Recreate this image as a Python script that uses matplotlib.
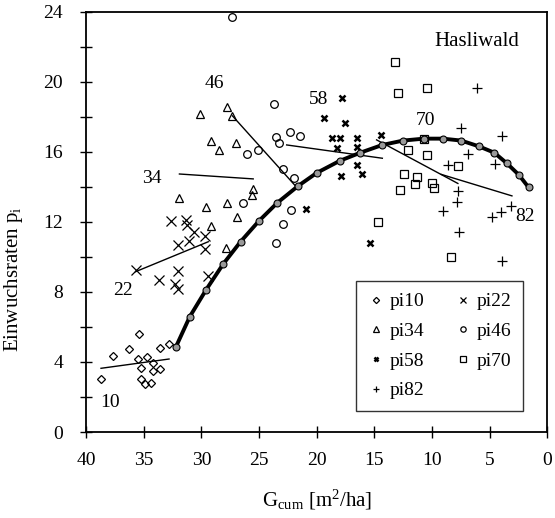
import matplotlib
matplotlib.use('Agg')
import matplotlib.pyplot as plt
from matplotlib.ticker import MultipleLocator

plt.rcParams['font.family'] = ['Liberation Serif', 'DejaVu Serif']
plt.rcParams['mathtext.default'] = 'regular'

# --- data (x = G_cum, y = p_i) ---
pi10_x = [38.7, 37.7, 36.3, 35.4, 35.5, 34.7, 35.2, 34.2, 34.2, 33.6, 33.6, 32.8, 35.2, 34.9, 34.4]
pi10_y = [3.03, 4.32, 4.74, 5.60, 4.19, 4.30, 3.66, 3.92, 3.50, 3.60, 4.78, 5.03, 3.01, 2.73, 2.82]

pi22_x = [35.7, 32.6, 31.3, 31.2, 30.6, 32.0, 31.1, 29.7, 29.7, 33.7, 32.0, 32.3, 32.0, 29.4]
pi22_y = [9.26, 12.06, 12.11, 11.83, 11.41, 10.69, 10.91, 11.20, 10.44, 8.69, 9.22, 8.46, 8.17, 8.91]

pi34_x = [30.1, 27.8, 27.3, 29.2, 28.5, 27.0, 25.5, 25.6, 31.9, 29.6, 27.8, 26.9, 29.2, 27.9]
pi34_y = [18.17, 18.59, 18.06, 16.63, 16.11, 16.49, 13.90, 13.54, 13.39, 12.88, 13.10, 12.30, 11.77, 10.53]

pi46_x = [27.3, 23.7, 23.5, 23.3, 22.3, 21.4, 26.0, 25.1, 26.4, 22.9, 22.0, 22.2, 22.9, 23.5]
pi46_y = [23.7, 18.72, 16.87, 16.53, 17.12, 16.93, 15.87, 16.10, 13.10, 15.00, 14.50, 12.69, 11.89, 10.78]

pi58_x = [17.8, 19.4, 17.5, 18.7, 18.0, 18.2, 16.5, 16.5, 14.4, 16.5, 16.1, 17.9, 20.9, 15.4]
pi58_y = [19.07, 17.92, 17.68, 16.78, 16.78, 16.21, 16.78, 16.30, 16.97, 15.26, 14.74, 14.63, 12.73, 10.82]

pi70_x = [13.2, 12.9, 10.4, 12.1, 10.4, 12.4, 11.3, 11.5, 12.8, 10.0, 9.86, 7.75, 8.36, 14.7, 10.7]
pi70_y = [21.16, 19.35, 19.64, 16.11, 15.83, 14.74, 14.59, 14.15, 13.83, 14.25, 13.96, 15.20, 10.02, 12.02, 16.76]

pi82_x = [6.1, 7.46, 3.9, 6.83, 8.62, 4.5, 7.75, 7.84, 9.05, 4.8, 4.0, 3.15, 7.64, 3.9]
pi82_y = [19.64, 17.39, 16.91, 15.87, 15.26, 15.30, 13.79, 13.16, 12.63, 12.30, 12.59, 12.91, 11.45, 9.77]

# thick overall curve
curve_x = [32.2, 31.0, 29.6, 28.1, 26.6, 25.0, 23.4, 21.6, 20.0, 18.0, 16.2, 14.3, 12.5, 10.7,
           9.05, 7.46, 5.93, 4.6, 3.5, 2.46, 1.62]
curve_y = [4.87, 6.59, 8.11, 9.60, 10.87, 12.06, 13.10, 14.06, 14.80, 15.49, 15.96, 16.40, 16.65, 16.76,
           16.76, 16.65, 16.32, 15.96, 15.35, 14.69, 13.98]

# thin group lines (start, end) and label positions
fit_names = ['10', '22', '34', '46', '58', '70', '82']
fit_x = [(38.7, 32.8), (35.7, 29.4), (31.9, 25.5), (27.3, 21.7), (22.6, 14.3), (14.8, 7.75), (9.2, 3.06)]
fit_y = [(3.64, 4.17), (9.16, 10.87), (14.74, 14.46), (18.06, 13.96), (16.40, 15.64), (16.69, 14.20), (14.72, 13.49)]
label_x = [37.9, 36.8, 34.3, 28.9, 19.8, 10.6, 1.9]
label_y = [1.7, 8.1, 14.5, 19.9, 19.0, 17.8, 12.3]

fig = plt.figure(figsize=(5.55, 5.18), dpi=100)
ax = fig.add_axes([0.155, 0.166, 0.831, 0.811])

mk = dict(color='black', linestyle='none', markerfacecolor='none')
ax.plot(pi10_x, pi10_y, marker='D', markersize=4.5, markeredgewidth=0.9, label='pi10', **mk)
ax.plot(pi22_x, pi22_y, marker='x', markersize=6.5, markeredgewidth=0.9, label='pi22', **mk)
ax.plot(pi34_x, pi34_y, marker='^', markersize=5.5, markeredgewidth=0.9, label='pi34', **mk)
ax.plot(pi46_x, pi46_y, marker='o', markersize=5.5, markeredgewidth=0.9, label='pi46', **mk)
ax.plot(pi58_x, pi58_y, marker='x', markersize=5, markeredgewidth=1.8, label='pi58', **mk)
ax.plot(pi70_x, pi70_y, marker='s', markersize=5.5, markeredgewidth=0.9, label='pi70', **mk)
ax.plot(pi82_x, pi82_y, marker='+', markersize=6.5, markeredgewidth=0.9, label='pi82', **mk)

for fx, fy, name, lx, ly in zip(fit_x, fit_y, fit_names, label_x, label_y):
    ax.plot(fx, fy, color='black', linewidth=1.0)
    ax.text(lx, ly, name, fontsize=14, ha='center', va='center')

ax.plot(curve_x, curve_y, color='black', linewidth=2.8, marker='o', markersize=5,
        markerfacecolor='#999999', markeredgecolor='black', markeredgewidth=0.8)

ax.text(6.1, 22.3, 'Hasliwald', fontsize=15, ha='center', va='center')

ax.set_xlim(40, 0)
ax.set_ylim(0, 24)
ax.xaxis.set_major_locator(MultipleLocator(5))
ax.yaxis.set_major_locator(MultipleLocator(4))
ax.yaxis.set_minor_locator(MultipleLocator(2))
ax.tick_params(axis='both', which='major', direction='inout', length=9, width=1, labelsize=14)
ax.tick_params(axis='x', which='major', pad=10)
ax.tick_params(axis='y', which='major', pad=12)
ax.tick_params(axis='y', which='minor', direction='inout', length=9, width=1)
for s in ax.spines.values():
    s.set_linewidth(1.3)

ax.set_xlabel('G$_{cum}$ [m$^2$/ha]', fontsize=15)
ax.set_ylabel('Einwuchsraten p$_i$', fontsize=15)
ax.yaxis.set_label_coords(-0.132, 0.364)
ax.xaxis.set_label_coords(0.5, -0.132)

h, l = ax.get_legend_handles_labels()
order = [0, 2, 4, 6, 1, 3, 5]
leg = ax.legend([h[i] for i in order], [l[i] for i in order], ncol=2, fontsize=14,
                loc='lower right', bbox_to_anchor=(0.948, 0.05), borderaxespad=0,
                frameon=True, fancybox=False,
                edgecolor='black', markerscale=0.7, handlelength=0.8, handletextpad=0.3,
                columnspacing=1.6, labelspacing=0.62, borderpad=0.6)
leg.get_frame().set_linewidth(1.0)

fig.savefig('out.png', dpi=100)
